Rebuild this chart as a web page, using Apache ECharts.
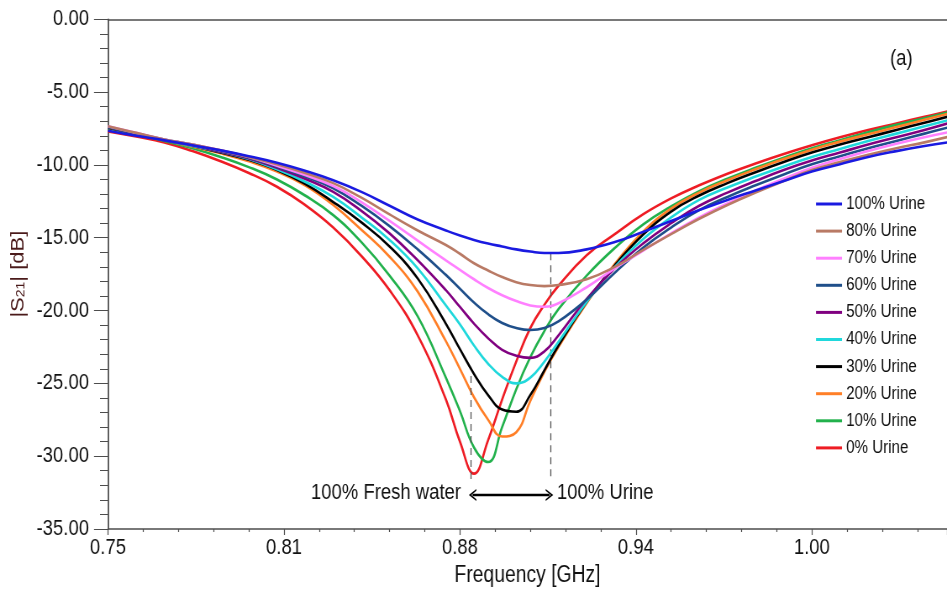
<!DOCTYPE html>
<html>
<head>
<meta charset="utf-8">
<script src="https://cdn.jsdelivr.net/npm/echarts@6/dist/echarts.min.js"></script>
<style>
  html, body { margin: 0; padding: 0; background: #ffffff; overflow: hidden; width: 947px; height: 590px; }
  /* The plot is laid out on a wider canvas and squeezed horizontally, giving the narrow lettering */
  #chart { width: 1127px; height: 590px; transform: scaleX(0.84028); transform-origin: 0 0; }
</style>
</head>
<body>
<div id="chart"></div>
<script>
// Frequency sweep (GHz) shared by every measured trace (finer steps around the dips)
const freqGHz = [0.75, 0.76, 0.77, 0.78, 0.79, 0.80, 0.81, 0.82, 0.83, 0.84, 0.85, 0.86, 0.87,
                 0.875, 0.88, 0.885, 0.89, 0.895, 0.90, 0.905, 0.91,
                 0.92, 0.93, 0.94, 0.95, 0.96, 0.97, 0.98, 0.99, 1.00, 1.01, 1.02, 1.03, 1.04, 1.05];

// |S21| in dB for each urine concentration
const urine0   = [-7.7, -8.05, -8.45, -9.05, -9.75, -10.55, -11.5, -12.75, -14.3, -16.25, -18.6, -21.7, -26.1,
                  -29.0, -31.2, -28.9, -26.1, -23.5, -21.2, -19.6, -18.3,
                  -16.2, -14.75, -13.4, -12.3, -11.4, -10.6, -9.9, -9.25, -8.65, -8.1, -7.6, -7.15, -6.7, -6.25];
const urine10  = [-7.5, -7.9, -8.35, -8.85, -9.45, -10.15, -11.0, -12.1, -13.45, -15.3, -17.6, -20.4, -24.6,
                  -26.9, -29.4, -30.4, -28.0, -25.4, -23.2, -21.4, -19.9,
                  -17.6, -15.7, -14.1, -12.85, -11.8, -10.95, -10.2, -9.5, -8.85, -8.3, -7.75, -7.25, -6.8, -6.3];
const urine20  = [-7.45, -7.85, -8.3, -8.75, -9.2, -9.75, -10.45, -11.4, -12.75, -14.45, -16.3, -18.7, -22.1,
                  -24.0, -25.95, -27.5, -28.65, -28.35, -26.2, -24.2, -22.5,
                  -19.5, -16.8, -14.6, -13.0, -11.9, -11.05, -10.3, -9.6, -8.95, -8.4, -7.9, -7.4, -6.9, -6.4];
const urine30  = [-7.45, -7.85, -8.3, -8.7, -9.15, -9.65, -10.35, -11.3, -12.55, -13.95, -15.6, -17.8, -20.9,
                  -22.65, -24.35, -25.8, -26.8, -26.95, -25.8, -24.1, -22.4,
                  -19.4, -16.9, -14.8, -13.2, -12.1, -11.25, -10.5, -9.8, -9.15, -8.6, -8.1, -7.6, -7.1, -6.6];
const urine40  = [-7.4, -7.85, -8.3, -8.7, -9.1, -9.6, -10.3, -11.15, -12.2, -13.6, -15.15, -17.1, -19.65,
                  -20.95, -22.4, -23.65, -24.55, -25.0, -24.6, -23.5, -22.15,
                  -19.4, -17.0, -15.1, -13.6, -12.4, -11.55, -10.8, -10.1, -9.45, -8.9, -8.35, -7.85, -7.35, -6.85];
const urine50  = [-7.4, -7.85, -8.3, -8.65, -9.1, -9.55, -10.2, -10.95, -11.85, -13.15, -14.7, -16.55, -18.6,
                  -19.75, -20.9, -21.9, -22.7, -23.1, -23.25, -22.8, -21.7,
                  -19.2, -17.1, -15.4, -14.0, -12.8, -11.9, -11.1, -10.35, -9.7, -9.15, -8.6, -8.1, -7.6, -7.05];
const urine60  = [-7.4, -7.85, -8.25, -8.6, -9.05, -9.5, -10.1, -10.8, -11.6, -12.8, -14.2, -15.8, -17.55,
                  -18.5, -19.45, -20.25, -20.85, -21.2, -21.34, -21.2, -20.75,
                  -19.25, -17.4, -15.7, -14.3, -13.1, -12.2, -11.4, -10.65, -9.95, -9.4, -8.85, -8.35, -7.85, -7.35];
const urine70  = [-7.35, -7.8, -8.25, -8.6, -9.0, -9.45, -10.05, -10.7, -11.45, -12.55, -13.85, -15.2, -16.55,
                  -17.2, -17.85, -18.45, -18.95, -19.35, -19.65, -19.74, -19.5,
                  -18.4, -17.1, -15.9, -14.7, -13.6, -12.65, -11.75, -10.95, -10.2, -9.6, -9.05, -8.55, -8.1, -7.7];
const urine80  = [-7.35, -7.8, -8.25, -8.6, -9.0, -9.45, -9.95, -10.55, -11.25, -12.25, -13.4, -14.5, -15.5,
                  -16.1, -16.75, -17.25, -17.7, -18.05, -18.25, -18.32, -18.25,
                  -17.85, -17.0, -15.85, -14.75, -13.7, -12.75, -11.9, -11.1, -10.35, -9.8, -9.3, -8.85, -8.45, -8.0];
const urine100 = [-7.65, -8.0, -8.3, -8.65, -9.0, -9.4, -9.85, -10.4, -11.05, -11.85, -12.8, -13.75, -14.5,
                  -14.85, -15.15, -15.4, -15.6, -15.8, -15.95, -16.05, -16.05,
                  -15.8, -15.3, -14.6, -13.85, -13.1, -12.4, -11.75, -11.1, -10.45, -9.95, -9.45, -9.05, -8.7, -8.4];

// Trace names (drawing order) and legend order
const traceNames = ['0% Urine', '10% Urine', '20% Urine', '30% Urine', '40% Urine',
                    '50% Urine', '60% Urine', '70% Urine', '80% Urine', '100% Urine'];
const traceValues = [urine0, urine10, urine20, urine30, urine40, urine50, urine60, urine70, urine80, urine100];
const legendOrder = ['100% Urine', '80% Urine', '70% Urine', '60% Urine', '50% Urine',
                     '40% Urine', '30% Urine', '20% Urine', '10% Urine', '0% Urine'];

// Resonance dips marked on the plot (GHz) and annotation levels (dB)
const freshWaterDip = 0.8788;
const urineDip = 0.9073;
const freshWaterGuide = [-24.5, -31.9];
const urineGuide = [-16.07, -31.4];
const shiftArrowLevel = -32.67;
const shiftArrowEnds = [0.8795, 0.9068];
const annotationTexts = ['100% Fresh water', '100% Urine'];
const panelTag = '(a)';

// Axis ranges and tick spacing
const xRange = [0.75, 1.048];
const xStep = 0.0625;
const yRange = [-35, 0];
const yStep = 5;

const lineColors = ['#ee1c24', '#22b14c', '#ff7f27', '#000000', '#20d8dc',
                    '#800080', '#1f4f8a', '#ff80ff', '#b97a65', '#1a1ae0'];

const FONT = "'Liberation Sans', Arial, sans-serif";
const AXIS_COLOR = '#4d4d4d';
const SQUEEZE = 0.84028;            // horizontal scale applied to the canvas
const CANVAS_W = 1127;
const sx = x => x / SQUEEZE;        // screen x -> layout x

const chart = echarts.init(document.getElementById('chart'), null, { renderer: 'canvas' });

const series = traceNames.map((name, i) => ({
  name: name,
  type: 'line',
  xAxisIndex: 0,
  yAxisIndex: 0,
  data: freqGHz.map((f, k) => [f, traceValues[i][k]]),
  showSymbol: false,
  symbol: 'none',
  smooth: 0.45,
  lineStyle: { color: lineColors[i], width: 2.6 },
  itemStyle: { color: lineColors[i] },
  z: 2 + i,
  silent: true,
  animation: false
}));

// Open chevron pointing "up" (rotated along the line by ECharts)
const chevron = 'path://M0,9 L6,0 L12,9 L10.2,9 L6,3 L1.8,9 Z';

series.push({
  name: 'guides',
  type: 'line',
  data: [],
  silent: true,
  animation: false,
  markLine: {
    silent: true,
    animation: false,
    symbol: ['none', 'none'],
    label: { show: false },
    lineStyle: { color: '#555555', width: 1.3, type: [7, 5] },
    data: [
      [{ coord: [freshWaterDip, freshWaterGuide[0]] }, { coord: [freshWaterDip, freshWaterGuide[1]] }],
      [{ coord: [urineDip, urineGuide[0]] }, { coord: [urineDip, urineGuide[1]] }]
    ]
  }
});

series.push({
  name: 'shift',
  type: 'line',
  data: [],
  silent: true,
  animation: false,
  markLine: {
    silent: true,
    animation: false,
    symbol: [chevron, chevron],
    symbolSize: [12, 9],
    label: { show: false },
    lineStyle: { color: '#000000', width: 2.4, type: 'solid' },
    data: [
      [{ coord: [shiftArrowEnds[0], shiftArrowLevel] }, { coord: [shiftArrowEnds[1], shiftArrowLevel] }]
    ]
  }
});

const option = {
  animation: false,
  backgroundColor: '#ffffff',
  textStyle: { fontFamily: FONT },
  grid: { left: sx(108), right: 0, top: 19.3, bottom: 61, containLabel: false, outerBoundsMode: 'none' },
  legend: {
    data: legendOrder,
    orient: 'vertical',
    left: sx(816),
    top: 195,
    icon: 'path://M0,0 H31 V3 H0 Z',
    itemWidth: sx(26),
    itemHeight: 14,
    itemGap: 9.1,
    padding: 0,
    selectedMode: false,
    textStyle: { fontFamily: FONT, fontSize: 18, color: '#111111' }
  },
  xAxis: [
    {
      type: 'value',
      min: xRange[0],
      max: xRange[1],
      interval: xStep,
      position: 'bottom',
      name: 'Frequency [GHz]',
      nameLocation: 'middle',
      nameGap: 30,
      nameTextStyle: { fontFamily: FONT, fontSize: 23, color: '#111111' },
      axisLine: { show: true, onZero: false, lineStyle: { color: AXIS_COLOR, width: 1.5 } },
      axisTick: { show: true, length: 6, lineStyle: { color: AXIS_COLOR, width: 1.2 } },
      minorTick: { show: true, splitNumber: 5, length: 3, lineStyle: { color: AXIS_COLOR, width: 1.2 } },
      axisLabel: {
        fontFamily: FONT, fontSize: 22, color: '#111111', margin: 8,
        showMaxLabel: false,
        formatter: v => v.toFixed(2)
      },
      splitLine: { show: false },
      minorSplitLine: { show: false }
    },
    {
      type: 'value',
      min: xRange[0],
      max: xRange[1],
      position: 'top',
      axisLine: { show: true, onZero: false, lineStyle: { color: AXIS_COLOR, width: 1.5 } },
      axisTick: { show: false },
      axisLabel: { show: false },
      splitLine: { show: false }
    }
  ],
  yAxis: {
    type: 'value',
    min: yRange[0],
    max: yRange[1],
    interval: yStep,
    name: '|S{sub|21}| [dB]',
    nameLocation: 'middle',
    nameGap: 77,
    nameRotate: 90,
    nameTextStyle: {
      fontFamily: FONT, fontSize: 22, color: '#4a1a1a',
      rich: {
        sub: { fontFamily: FONT, fontSize: 14, color: '#4a1a1a', verticalAlign: 'bottom', lineHeight: 22 }
      }
    },
    axisLine: { show: true, onZero: false, lineStyle: { color: AXIS_COLOR, width: 1.8 } },
    axisTick: { show: true, length: sx(14), lineStyle: { color: AXIS_COLOR, width: 1 } },
    minorTick: { show: true, splitNumber: 5, length: sx(8), lineStyle: { color: AXIS_COLOR, width: 1 } },
    axisLabel: {
      fontFamily: FONT, fontSize: 22, color: '#111111', margin: sx(19),
      formatter: v => v.toFixed(2)
    },
    splitLine: { show: false },
    minorSplitLine: { show: false }
  },
  graphic: [
    {
      type: 'text', left: sx(890), top: 48, silent: true,
      style: { text: panelTag, font: '22px ' + FONT, fill: '#111111' }
    },
    {
      type: 'text', right: CANVAS_W - sx(461), top: 482, silent: true,
      style: { text: annotationTexts[0], font: '22px ' + FONT, fill: '#111111' }
    },
    {
      type: 'text', left: sx(557), top: 482, silent: true,
      style: { text: annotationTexts[1], font: '22px ' + FONT, fill: '#111111' }
    }
  ],
  series: series
};

chart.setOption(option);
</script>
</body>
</html>
